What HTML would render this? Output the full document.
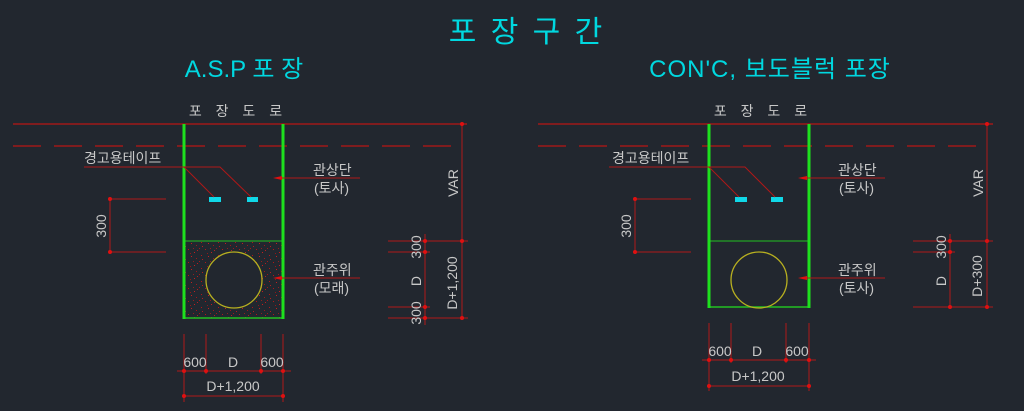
<!DOCTYPE html>
<html><head><meta charset="utf-8">
<style>
html,body{margin:0;padding:0;background:#22272f;width:1024px;height:411px;overflow:hidden}
svg{display:block}
text{font-family:"Liberation Sans","Noto Sans CJK KR",sans-serif}
.g{fill:#c8c8c8;font-size:14px}
.c{fill:#00d8e0}
</style></head><body>
<svg width="1024" height="411" viewBox="0 0 1024 411" xmlns="http://www.w3.org/2000/svg">
<defs>
<pattern id="sand" width="17" height="13" patternUnits="userSpaceOnUse">
<rect x="1" y="2" width="1" height="1" fill="#b01818"/>
<rect x="7" y="5" width="1" height="1" fill="#c02020"/>
<rect x="12" y="1" width="1" height="1" fill="#a01818"/>
<rect x="4" y="9" width="1" height="1" fill="#c02020"/>
<rect x="14" y="8" width="1" height="1" fill="#b01818"/>
<rect x="9" y="11" width="1" height="1" fill="#a01818"/>
<rect x="3" y="6" width="1" height="1" fill="#901818"/>
<rect x="10" y="3" width="1" height="1" fill="#b02020"/>
<rect x="15" y="12" width="1" height="1" fill="#b02020"/>
<rect x="6" y="1" width="1" height="1" fill="#902020"/>
</pattern>
</defs>

<text x="527" y="42" class="c" font-size="30" text-anchor="middle" letter-spacing="3">포 장 구 간</text>
<text x="244" y="77" class="c" font-size="24" text-anchor="middle">A.S.P 포 장</text>
<text x="770" y="77" class="c" font-size="24" text-anchor="middle" letter-spacing="1">CON'C, 보도블럭 포장</text>

<!-- LEFT PANEL -->
<g>
<text x="238" y="116" class="g" font-size="14" text-anchor="middle" letter-spacing="5">포 장 도 로</text>
<line x1="13" y1="124" x2="467" y2="124" stroke="#a01818" stroke-width="1.5"/>
<line x1="13" y1="146" x2="462" y2="146" stroke="#a01818" stroke-width="1.5" stroke-dasharray="28,13"/>
<rect x="184" y="241" width="99" height="77" fill="url(#sand)"/>
<line x1="184" y1="241" x2="283" y2="241" stroke="#22c022" stroke-width="1"/>
<line x1="184" y1="318" x2="283" y2="318" stroke="#22c022" stroke-width="1.5"/>
<line x1="184" y1="124" x2="184" y2="319" stroke="#1ee01e" stroke-width="3"/>
<line x1="283" y1="124" x2="283" y2="319" stroke="#1ee01e" stroke-width="3"/>
<circle cx="234" cy="280" r="28" fill="#22272f" stroke="#b8b020" stroke-width="1.3"/>
<rect x="209" y="197" width="12" height="5" fill="#10d8e8"/>
<rect x="247" y="197" width="11" height="5" fill="#10d8e8"/>
<text x="84" y="163" class="g">경고용테이프</text>
<polyline points="84,167 220,167 251,197" fill="none" stroke="#b01818" stroke-width="1"/>
<line x1="184" y1="167" x2="214" y2="197" stroke="#b01818" stroke-width="1"/>
<text x="313" y="175" class="g">관상단</text>
<text x="314" y="193" class="g">(토사)</text>
<line x1="278" y1="178" x2="360" y2="178" stroke="#b01818" stroke-width="1"/>
<polygon points="273,178 282,176 282,180" fill="#e01010"/>
<text x="313" y="275" class="g">관주위</text>
<text x="314" y="293" class="g">(모래)</text>
<line x1="278" y1="278" x2="360" y2="278" stroke="#b01818" stroke-width="1"/>
<polygon points="273,278 282,276 282,280" fill="#e01010"/>
<g stroke="#b01818" stroke-width="1">
<line x1="110" y1="199" x2="110" y2="252"/>
<line x1="110" y1="199" x2="166" y2="199"/>
<line x1="110" y1="252" x2="166" y2="252"/>
</g>
<circle cx="110" cy="199" r="2" fill="#e01010"/><circle cx="110" cy="252" r="2" fill="#e01010"/>
<text transform="translate(106,226) rotate(-90)" class="g" text-anchor="middle">300</text>
<g stroke="#b01818" stroke-width="1">
<line x1="462" y1="124" x2="462" y2="318"/>
<line x1="425" y1="234" x2="425" y2="325"/>
<line x1="388" y1="241" x2="468" y2="241"/>
<line x1="388" y1="318" x2="468" y2="318"/>
<line x1="388" y1="252" x2="430" y2="252"/>
<line x1="388" y1="307" x2="430" y2="307"/>
</g>
<g fill="#e01010">
<circle cx="462" cy="124" r="2"/><circle cx="462" cy="241" r="2"/><circle cx="462" cy="318" r="2"/>
<circle cx="425" cy="241" r="2"/><circle cx="425" cy="252" r="2"/><circle cx="425" cy="307" r="2"/><circle cx="425" cy="318" r="2"/>
</g>
<text transform="translate(458,183) rotate(-90)" class="g" text-anchor="middle">VAR</text>
<text transform="translate(457,283) rotate(-90)" class="g" text-anchor="middle">D+1,200</text>
<text transform="translate(421,247) rotate(-90)" class="g" text-anchor="middle">300</text>
<text transform="translate(421,281) rotate(-90)" class="g" text-anchor="middle">D</text>
<text transform="translate(421,313) rotate(-90)" class="g" text-anchor="middle">300</text>
<g stroke="#b01818" stroke-width="1">
<line x1="184" y1="334" x2="184" y2="402"/>
<line x1="206" y1="334" x2="206" y2="374"/>
<line x1="261" y1="334" x2="261" y2="374"/>
<line x1="283" y1="334" x2="283" y2="402"/>
<line x1="177" y1="371" x2="291" y2="371"/>
<line x1="184" y1="396" x2="283" y2="396"/>
</g>
<g fill="#e01010">
<circle cx="184" cy="371" r="2"/><circle cx="206" cy="371" r="2"/><circle cx="261" cy="371" r="2"/><circle cx="283" cy="371" r="2"/>
<circle cx="184" cy="396" r="2"/><circle cx="283" cy="396" r="2"/>
</g>
<text x="195" y="367" class="g" text-anchor="middle">600</text>
<text x="233" y="367" class="g" text-anchor="middle">D</text>
<text x="272" y="367" class="g" text-anchor="middle">600</text>
<text x="233" y="391" class="g" text-anchor="middle">D+1,200</text>
</g>

<!-- RIGHT PANEL -->
<g>
<text x="763" y="116" class="g" font-size="14" text-anchor="middle" letter-spacing="5">포 장 도 로</text>
<line x1="538" y1="124" x2="993" y2="124" stroke="#a01818" stroke-width="1.5"/>
<line x1="538" y1="146" x2="987" y2="146" stroke="#a01818" stroke-width="1.5" stroke-dasharray="28,13"/>
<line x1="709" y1="241" x2="809" y2="241" stroke="#22c022" stroke-width="1"/>
<line x1="709" y1="307" x2="809" y2="307" stroke="#22c022" stroke-width="1.5"/>
<line x1="709" y1="124" x2="709" y2="308" stroke="#1ee01e" stroke-width="3"/>
<line x1="809" y1="124" x2="809" y2="308" stroke="#1ee01e" stroke-width="3"/>
<circle cx="759" cy="280" r="28" fill="none" stroke="#b8b020" stroke-width="1.3"/>
<rect x="735" y="197" width="12" height="5" fill="#10d8e8"/>
<rect x="771" y="197" width="12" height="5" fill="#10d8e8"/>
<text x="612" y="163" class="g">경고용테이프</text>
<polyline points="609,167 745,167 775,197" fill="none" stroke="#b01818" stroke-width="1"/>
<line x1="709" y1="167" x2="739" y2="197" stroke="#b01818" stroke-width="1"/>
<text x="838" y="175" class="g">관상단</text>
<text x="839" y="193" class="g">(토사)</text>
<line x1="803" y1="178" x2="885" y2="178" stroke="#b01818" stroke-width="1"/>
<polygon points="798,178 807,176 807,180" fill="#e01010"/>
<text x="838" y="275" class="g">관주위</text>
<text x="839" y="293" class="g">(토사)</text>
<line x1="803" y1="278" x2="885" y2="278" stroke="#b01818" stroke-width="1"/>
<polygon points="798,278 807,276 807,280" fill="#e01010"/>
<g stroke="#b01818" stroke-width="1">
<line x1="635" y1="199" x2="635" y2="252"/>
<line x1="635" y1="199" x2="691" y2="199"/>
<line x1="635" y1="252" x2="691" y2="252"/>
</g>
<circle cx="635" cy="199" r="2" fill="#e01010"/><circle cx="635" cy="252" r="2" fill="#e01010"/>
<text transform="translate(631,226) rotate(-90)" class="g" text-anchor="middle">300</text>
<g stroke="#b01818" stroke-width="1">
<line x1="987" y1="124" x2="987" y2="307"/>
<line x1="950" y1="234" x2="950" y2="307"/>
<line x1="913" y1="241" x2="993" y2="241"/>
<line x1="913" y1="307" x2="993" y2="307"/>
<line x1="913" y1="252" x2="955" y2="252"/>
</g>
<g fill="#e01010">
<circle cx="987" cy="124" r="2"/><circle cx="987" cy="241" r="2"/><circle cx="987" cy="307" r="2"/>
<circle cx="950" cy="241" r="2"/><circle cx="950" cy="252" r="2"/><circle cx="950" cy="307" r="2"/>
</g>
<text transform="translate(983,183) rotate(-90)" class="g" text-anchor="middle">VAR</text>
<text transform="translate(982,276) rotate(-90)" class="g" text-anchor="middle">D+300</text>
<text transform="translate(946,247) rotate(-90)" class="g" text-anchor="middle">300</text>
<text transform="translate(946,281) rotate(-90)" class="g" text-anchor="middle">D</text>
<g stroke="#b01818" stroke-width="1">
<line x1="709" y1="323" x2="709" y2="391"/>
<line x1="731" y1="323" x2="731" y2="363"/>
<line x1="786" y1="323" x2="786" y2="363"/>
<line x1="809" y1="323" x2="809" y2="391"/>
<line x1="702" y1="360" x2="816" y2="360"/>
<line x1="709" y1="386" x2="809" y2="386"/>
</g>
<g fill="#e01010">
<circle cx="709" cy="360" r="2"/><circle cx="731" cy="360" r="2"/><circle cx="786" cy="360" r="2"/><circle cx="809" cy="360" r="2"/>
<circle cx="709" cy="386" r="2"/><circle cx="809" cy="386" r="2"/>
</g>
<text x="720" y="356" class="g" text-anchor="middle">600</text>
<text x="757" y="356" class="g" text-anchor="middle">D</text>
<text x="797" y="356" class="g" text-anchor="middle">600</text>
<text x="758" y="381" class="g" text-anchor="middle">D+1,200</text>
</g>
</svg>
</body></html>
